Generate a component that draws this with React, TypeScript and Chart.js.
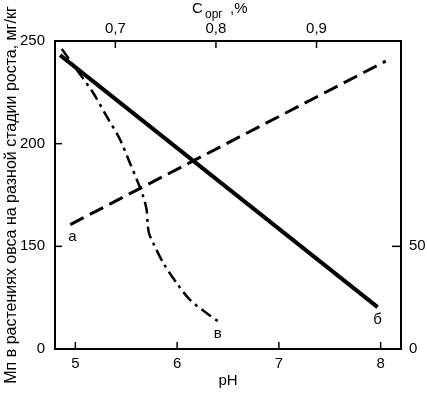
import React, { useEffect, useRef } from "react";
import { Chart, registerables } from "chart.js";

Chart.register(...registerables);

// Axis ticks
const phTicks = [5, 6, 7, 8];
const cOrgTicks = [0.7, 0.8, 0.9];
// Left axis is broken: the position "100" is labelled 0
const mnTicks = [100, 150, 200, 250];
const mnTickLabels = ["0", "150", "200", "250"];
const rightTicks = [0, 50];

// Curve а (dashed)
const lineA_pH = [4.95, 8.05];
const lineA_mn = [160.6, 240.2];
// Curve б (solid)
const lineB_pH = [4.85, 7.97];
const lineB_mn = [243.1, 120.4];
// Curve в (dash-dot)
const lineV_pH = [4.867, 5.009, 5.173, 5.305, 5.437, 5.535, 5.617, 5.666, 5.7, 5.71, 5.723, 5.765, 5.864, 5.996, 6.127, 6.292, 6.407];
const lineV_mn = [246.1, 236.3, 224.9, 213.5, 202.2, 190.7, 180.9, 174.4, 167.9, 161.4, 156.5, 151.6, 141.9, 132.1, 123.9, 117.4, 113.3];

// Curve labels
const curveLabels = ["а", "б", "в"];
const curveLabel_pH = [4.97, 7.97, 6.4];
const curveLabel_mn = [154.7, 114.2, 107.3];

const FONT = "'Liberation Sans', Arial, Helvetica, sans-serif";

const zip = (xs: number[], ys: number[]) => xs.map((x, i) => ({ x, y: ys[i] }));

const inwardTicks = {
  id: "inwardTicks",
  afterDatasetsDraw(chart: any) {
    const { ctx, chartArea, scales } = chart;
    const { left, right, top, bottom } = chartArea;
    ctx.save();
    ctx.strokeStyle = "#000";
    ctx.lineWidth = 1.5;
    const seg = (x1: number, y1: number, x2: number, y2: number) => {
      ctx.beginPath();
      ctx.moveTo(x1, y1);
      ctx.lineTo(x2, y2);
      ctx.stroke();
    };
    phTicks.forEach((v) => {
      const x = scales.x.getPixelForValue(v);
      seg(x, bottom, x, bottom - 7);
    });
    cOrgTicks.forEach((v) => {
      const x = scales.x2.getPixelForValue(v);
      seg(x, top, x, top + 7);
    });
    mnTicks.slice(1, 3).forEach((v) => {
      const y = scales.y.getPixelForValue(v);
      seg(left, y, left + 7, y);
    });
    rightTicks.slice(1).forEach((v) => {
      const y = scales.y2.getPixelForValue(v);
      seg(right, y, right - 9, y);
    });
    ctx.restore();
  },
};

const textLabels = {
  id: "textLabels",
  afterDraw(chart: any) {
    const { ctx, scales } = chart;
    ctx.save();
    ctx.fillStyle = "#000";
    ctx.textAlign = "center";
    ctx.textBaseline = "middle";
    ctx.font = `15px ${FONT}`;
    curveLabels.forEach((t, i) => {
      ctx.fillText(t, scales.x.getPixelForValue(curveLabel_pH[i]), scales.y.getPixelForValue(curveLabel_mn[i]));
    });
    // Top axis title with subscript
    ctx.textAlign = "left";
    ctx.textBaseline = "alphabetic";
    ctx.font = `15px ${FONT}`;
    ctx.fillText("C", 192, 13);
    ctx.font = `12px ${FONT}`;
    ctx.fillText("орг", 205, 18);
    ctx.font = `15px ${FONT}`;
    ctx.fillText(",%", 230, 13);
    ctx.restore();
  },
};

export default function App() {
  const ref = useRef<HTMLCanvasElement>(null);

  useEffect(() => {
    if (!ref.current) return;
    const tickFont = { family: FONT, size: 15 };
    const chart = new Chart(ref.current, {
      type: "scatter",
      data: {
        datasets: [
          {
            label: "а",
            data: zip(lineA_pH, lineA_mn),
            showLine: true,
            borderColor: "#000",
            borderWidth: 3,
            borderDash: [15, 7],
            pointRadius: 0,
            xAxisID: "x",
            yAxisID: "y",
          },
          {
            label: "б",
            data: zip(lineB_pH, lineB_mn),
            showLine: true,
            borderColor: "#000",
            borderWidth: 4,
            pointRadius: 0,
            xAxisID: "x",
            yAxisID: "y",
          },
          {
            label: "в",
            data: zip(lineV_pH, lineV_mn),
            showLine: true,
            borderColor: "#000",
            borderWidth: 2.5,
            borderDash: [12, 5, 3, 5],
            pointRadius: 0,
            tension: 0.3,
            xAxisID: "x",
            yAxisID: "y",
          },
        ],
      },
      options: {
        responsive: false,
        animation: false,
        layout: { padding: 0 },
        plugins: { legend: { display: false }, tooltip: { enabled: false } },
        scales: {
          x: {
            type: "linear",
            position: "bottom",
            min: 4.8,
            max: 8.2,
            afterBuildTicks: (s: any) => {
              s.ticks = phTicks.map((value) => ({ value }));
            },
            afterFit: (s: any) => {
              s.height = 45;
            },
            grid: { display: false, drawTicks: false },
            border: { display: true, color: "#000", width: 2 },
            ticks: { color: "#000", font: tickFont, padding: 6, maxRotation: 0, autoSkip: false, callback: (v: any) => String(v) },
            title: { display: true, text: "pH", color: "#000", font: tickFont, padding: { top: 0, bottom: 4 } },
          },
          x2: {
            type: "linear",
            position: "top",
            min: 0.64,
            max: 0.984,
            afterBuildTicks: (s: any) => {
              s.ticks = cOrgTicks.map((value) => ({ value }));
            },
            afterFit: (s: any) => {
              s.height = 41;
            },
            grid: { display: false, drawTicks: false },
            border: { display: true, color: "#000", width: 2 },
            ticks: {
              color: "#000",
              font: tickFont,
              padding: 3,
              maxRotation: 0,
              autoSkip: false,
              callback: (v: any) => Number(v).toFixed(1).replace(".", ","),
            },
          },
          y: {
            type: "linear",
            position: "left",
            min: 100,
            max: 250,
            afterBuildTicks: (s: any) => {
              s.ticks = mnTicks.map((value) => ({ value }));
            },
            afterFit: (s: any) => {
              s.width = 55;
            },
            grid: { display: false, drawTicks: false },
            border: { display: true, color: "#000", width: 2 },
            ticks: {
              color: "#000",
              font: tickFont,
              padding: 10,
              autoSkip: false,
              callback: (v: any) => {
                const i = mnTicks.indexOf(Number(v));
                return i >= 0 ? mnTickLabels[i] : "";
              },
            },
            title: {
              display: true,
              text: "Мп в растениях овса на разной стадии роста, мг/кг",
              color: "#000",
              font: { family: FONT, size: 16 },
              padding: { top: 2, bottom: 0 },
            },
          },
          y2: {
            type: "linear",
            position: "right",
            min: 0,
            max: 150,
            afterBuildTicks: (s: any) => {
              s.ticks = rightTicks.map((value) => ({ value }));
            },
            afterFit: (s: any) => {
              s.width = 26;
            },
            grid: { display: false, drawTicks: false },
            border: { display: true, color: "#000", width: 2 },
            ticks: { color: "#000", font: tickFont, padding: 8, autoSkip: false, callback: (v: any) => String(v) },
          },
        },
      },
      plugins: [inwardTicks, textLabels],
    } as any);
    return () => chart.destroy();
  }, []);

  return (
    <div style={{ position: "fixed", left: 0, top: 0, width: 427, height: 394, background: "#fff" }}>
      <canvas ref={ref} width={427} height={394} style={{ width: 427, height: 394, display: "block" }} />
    </div>
  );
}
